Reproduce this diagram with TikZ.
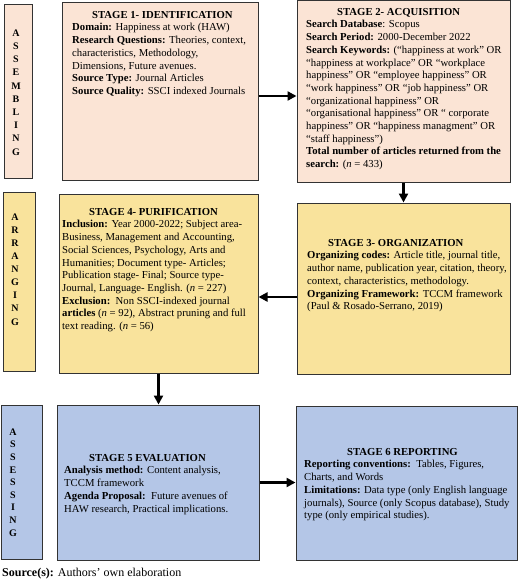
\documentclass[tikz,border=0pt]{standalone}
\usepackage{fontspec}
\setmainfont{Liberation Serif}
\usetikzlibrary{arrows.meta}

\definecolor{pinkbox}{HTML}{FBE4D5}
\definecolor{yellowbox}{HTML}{F9E39C}
\definecolor{bluebox}{HTML}{B4C6E7}

\tikzset{
    stagebox/.style={draw=black!80, line width=1pt, inner sep=0pt},
    stagetext/.style={anchor=north west, inner sep=0pt, align=left, font=\fontsize{10.7}{12.7}\selectfont},
    sideletter/.style={inner sep=0pt, font=\fontsize{10}{13}\selectfont\bfseries},
    flow/.style={-{Triangle[length=9pt,width=9pt]}, line width=2.6pt},
}

\begin{document}
\begin{tikzpicture}[x=1pt,y=-1pt]
    \useasboundingbox (0,0) rectangle (520,583);

    % phase columns
    \node[stagebox,fill=pinkbox,minimum width=28,minimum height=173] (assembling) at (18,91.5) {};
    \node[stagebox,fill=yellowbox,minimum width=32,minimum height=179] (arranging) at (19,281.5) {};
    \node[stagebox,fill=bluebox,minimum width=41,minimum height=154] (assessing) at (21.5,482) {};
    \foreach \l [count=\i] in {A,S,S,E,M,B,L,I,N,G} {
        \node[sideletter] (asm\i) at (16,{33+13.2*(\i-1)}) {\l};
    }
    \foreach \l [count=\i] in {A,R,R,A,N,G,I,N,G} {
        \node[sideletter] (arr\i) at (15,{217+13.1*(\i-1)}) {\l};
    }
    \foreach \l [count=\i] in {A,S,S,E,S,S,I,N,G} {
        \node[sideletter] (ass\i) at (13,{432+12.6*(\i-1)}) {\l};
    }

    % stage boxes
    \node[stagebox,fill=pinkbox,minimum width=196,minimum height=177] (s1) at (160,91.5) {};
    \node[stagebox,fill=pinkbox,minimum width=213,minimum height=181] (s2) at (403.5,91.5) {};
    \node[stagebox,fill=yellowbox,minimum width=213,minimum height=171] (s3) at (403.5,288.5) {};
    \node[stagebox,fill=yellowbox,minimum width=199,minimum height=179] (s4) at (158.5,283.5) {};
    \node[stagebox,fill=bluebox,minimum width=202,minimum height=155] (s5) at (158,482.5) {};
    \node[stagebox,fill=bluebox,minimum width=221,minimum height=154] (s6) at (406.5,483) {};

    \node[stagetext] (s1text) at (72,11) {\hspace*{20pt}\textbf{STAGE 1- IDENTIFICATION}\\
        \textbf{Domain:} Happiness at work (HAW)\\
        \textbf{Research Questions:} Theories, context,\\
        characteristics, Methodology,\\
        Dimensions, Future avenues.\\
        \textbf{Source Type:} Journal Articles\\
        \textbf{Source Quality:} SSCI indexed Journals};
    \node[stagetext] (s2text) at (306,8) {\hspace*{31pt}\textbf{STAGE 2- ACQUISITION}\\
        \textbf{Search Database}: Scopus\\
        \textbf{Search Period:} 2000-December 2022\\
        \textbf{Search Keywords:} (“happiness at work” OR\\
        “happiness at workplace” OR “workplace\\
        happiness” OR “employee happiness” OR\\
        “work happiness” OR “job happiness” OR\\
        “organizational happiness” OR\\
        “organisational happiness” OR “ corporate\\
        happiness” OR “happiness managment” OR\\
        “staff happiness”)\\
        \textbf{Total number of articles returned from the}\\
        \textbf{search:} (\textit{n} = 433)};
    \node[stagetext] (s3text) at (307,239) {\hspace*{21pt}\textbf{STAGE 3- ORGANIZATION}\\
        \textbf{Organizing codes:} Article title, journal title,\\
        author name, publication year, citation, theory,\\
        context, characteristics, methodology.\\
        \textbf{Organizing Framework:} TCCM framework\\
        (Paul \& Rosado-Serrano, 2019)};
    \node[stagetext] (s4text) at (62,208) {\hspace*{27pt}\textbf{STAGE 4- PURIFICATION}\\
        \textbf{Inclusion:} Year 2000-2022; Subject area-\\
        Business, Management and Accounting,\\
        Social Sciences, Psychology, Arts and\\
        Humanities; Document type- Articles;\\
        Publication stage- Final; Source type-\\
        Journal, Language- English. (\textit{n} = 227)\\
        \textbf{Exclusion:}\ \ Non SSCI-indexed journal\\
        \textbf{articles} (\textit{n} = 92), Abstract pruning and full\\
        text reading. (\textit{n} = 56)};
    \node[stagetext] (s5text) at (64,454) {\hspace*{25pt}\textbf{STAGE 5 EVALUATION}\\
        \textbf{Analysis method:} Content analysis,\\
        TCCM framework\\
        \textbf{Agenda Proposal:}\ \ Future avenues of\\
        HAW research, Practical implications.};
    \node[stagetext] (s6text) at (304,448) {\hspace*{43pt}\textbf{STAGE 6 REPORTING}\\
        \textbf{Reporting conventions:}\ \ Tables, Figures,\\
        Charts, and Words\\
        \textbf{Limitations:} Data type (only English language\\
        journals), Source (only Scopus database), Study\\
        type (only empirical studies).};

    % flow between stages
    \draw[flow] ([yshift=-4.5pt]s1.east) -- ([yshift=-4.5pt]s1.east -| s2.west);
    \draw[flow] (s2.south) -- (s2.south |- s3.north);
    \draw[flow] ([yshift=-8.5pt]s3.west) -- ([yshift=-8.5pt]s3.west -| s4.east);
    \draw[flow] (s4.south) -- (s4.south |- s5.north);
    \draw[flow] (s5.east) -- (s5.east -| s6.west);

    \node[anchor=base west, inner sep=0pt, font=\fontsize{12}{14}\selectfont] (source) at (2,576)
        {\textbf{Source(s):} Authors’ own elaboration};
\end{tikzpicture}
\end{document}
